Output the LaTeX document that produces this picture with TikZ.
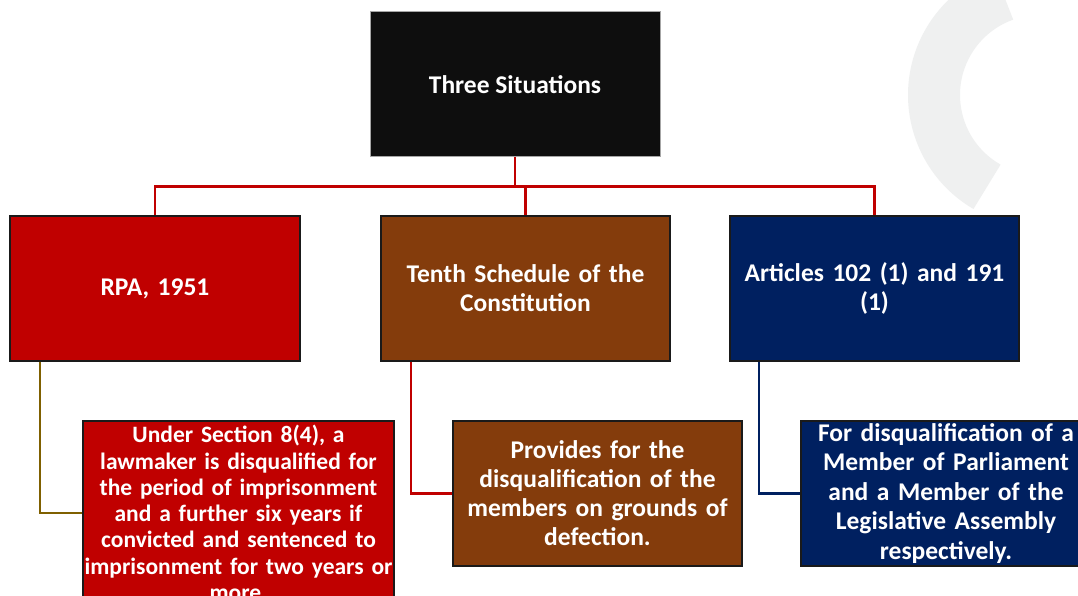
\documentclass[tikz,border=0pt]{standalone}
\usepackage{fontspec}
\setmainfont{Carlito}
\definecolor{topblack}{HTML}{0E0E0E}
\definecolor{rpared}{HTML}{C00000}
\definecolor{tenbrown}{HTML}{843C0C}
\definecolor{artnavy}{HTML}{002060}
\definecolor{olivec}{HTML}{7F6000}
\definecolor{edgec}{HTML}{1A1A1A}
\definecolor{wmgray}{HTML}{EFF0F0}
\begin{document}
\begin{tikzpicture}[x=1pt,y=-1pt,
  box/.style={draw=edgec, line width=2pt, text=white, font=\bfseries\fontsize{25.5}{29}\selectfont, align=center, inner sep=0pt},
  kid/.style={box, font=\bfseries\fontsize{25.5}{29.5}\selectfont},
  conn/.style={line width=2.2pt}]
\useasboundingbox (0,0) rectangle (1078,596);
\clip (0,0) rectangle (1078,596);
\fill[white] (0,0) rectangle (1078,596);
% faint watermark
\draw[line width=52pt, wmgray] (1040,95) ++(120:106) arc[start angle=120, end angle=250, radius=106];
\node[box, draw=gray!70, line width=1pt, fill=topblack, minimum width=290pt, minimum height=145pt] (top) at (515,84.5) {Three Situations};
\node[box, fill=rpared, minimum width=290pt, minimum height=145pt, text width=280pt] (b1) at (155,288.5) {RPA, 1951};
\node[box, fill=tenbrown, minimum width=289pt, minimum height=145pt, text width=280pt] (b2) at (525.5,288.5) {Tenth Schedule of the\\Constitution};
\node[box, fill=artnavy, minimum width=289pt, minimum height=145pt, text width=280pt] (b3) at (874.5,288.5) {Articles 102 (1) and 191\\(1)};
\node[kid, fill=rpared, minimum width=311pt, minimum height=184pt, text width=311pt, font=\bfseries\fontsize{23.5}{26.3}\selectfont] (c1) at (238.5,513) {Under Section 8(4), a\\lawmaker is disqualified for\\the period of imprisonment\\and a further six years if\\convicted and sentenced to\\imprisonment for two years or\\more.};
\node[kid, fill=tenbrown, minimum width=289pt, minimum height=145pt, text width=285pt, font=\bfseries\fontsize{25.5}{29}\selectfont] (c2) at (597.5,493.5) {Provides for the\\disqualification of the\\members on grounds of\\defection.};
\node[kid, fill=artnavy, minimum width=290pt, minimum height=145pt, text width=286pt] (c3) at (946,493.5) {For disqualification of a\\Member of Parliament\\and a Member of the\\Legislative Assembly\\respectively.};
\draw[conn, rpared] (top.south) -- ++(0,29) coordinate (bus);
\draw[conn, rpared] (b1.north) -- (b1.north |- bus) -| (b3.north);
\draw[conn, rpared] (b2.north) -- (b2.north |- bus);
\draw[conn, olivec] ([xshift=-115pt]b1.south) |- (c1.west);
\draw[conn, rpared] ([xshift=-114.5pt]b2.south) |- (c2.west);
\draw[conn, artnavy] ([xshift=-115.5pt]b3.south) |- (c3.west);
\end{tikzpicture}
\end{document}
